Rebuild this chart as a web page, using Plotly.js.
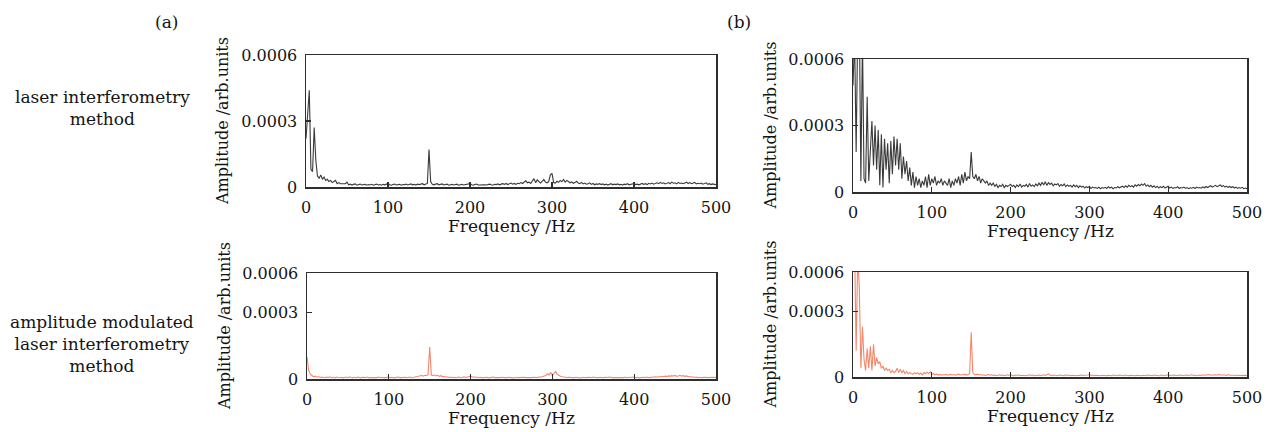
<!DOCTYPE html>
<html>
<head>
<meta charset="utf-8">
<script src="https://cdn.plot.ly/plotly-3.0.1.min.js"></script>
<style>
  html, body { margin: 0; padding: 0; background: #ffffff; }
  #chart { width: 1280px; height: 432px; }
</style>
</head>
<body>
<div id="chart"></div>
<script>
// Amplitude spectra, sampled every 2 Hz from 0 to 500 Hz.
// Values are in units of 1e-5 arb.units (one row = 20 Hz).
const freqStart = 0;
const freqStep = 2;

// (a) laser interferometry method
const ampA_laser = [
  22, 36, 44, 8, 7, 27, 12, 5, 4, 5.5,
  3.5, 4.5, 3, 3.5, 2.5, 3, 2, 2.5, 3, 1.5,
  2, 1.5, 1.5, 1.2, 1.5, 2.2, 1, 1.3, 0.9, 1.2,
  1.4, 0.8, 1.1, 1.3, 0.9, 1.0, 1.2, 0.8, 1.1, 0.9,
  1.2, 0.8, 1.0, 1.3, 0.9, 1.1, 0.8, 1.2, 1.0, 1.3,
  1.6, 1.0, 0.8, 1.1, 1.3, 0.9, 1.0, 1.2, 0.8, 1.1,
  1.0, 1.3, 0.9, 1.1, 1.4, 1.0, 1.2, 0.9, 1.3, 1.1,
  1.2, 1.5, 1.0, 1.3, 1.6, 17, 2.5, 1.2, 1.0, 1.3,
  1.5, 1.0, 1.2, 1.4, 0.9, 1.1, 1.3, 0.8, 1.0, 1.2,
  0.9, 1.1, 1.3, 0.8, 1.0, 1.2, 0.9, 1.1, 1.0, 1.3,
  1.5, 1.0, 0.8, 1.1, 1.3, 0.9, 1.0, 0.8, 1.2, 1.0,
  0.9, 1.1, 1.3, 1.0, 0.8, 1.2, 1.1, 1.4, 1.0, 1.3,
  1.5, 1.2, 1.6, 1.1, 1.4, 1.8, 1.3, 1.6, 1.2, 1.7,
  1.5, 2.0, 1.6, 2.4, 2.8, 1.9, 2.2, 1.6, 2.6, 3.8,
  2.0, 3.2, 2.5, 1.8, 2.6, 3.4, 2.2, 1.9, 2.4, 5.5,
  6.2, 2.0, 1.8, 2.6, 2.1, 3.0, 2.4, 3.4, 2.2, 3.0,
  2.5, 1.9, 2.3, 1.7, 2.0, 2.6, 1.8, 1.5, 2.1, 1.4,
  1.8, 1.3, 1.5, 1.9, 1.2, 1.6, 1.0, 1.4, 1.2, 1.5,
  1.1, 1.4, 1.0, 1.3, 0.9, 1.2, 1.5, 1.0, 1.3, 1.1,
  1.4, 1.0, 1.2, 0.9, 1.3, 1.1, 1.5, 1.0, 1.2, 1.4,
  1.6, 1.1, 1.3, 1.0, 1.4, 1.6, 1.2, 1.5, 1.1, 1.7,
  1.4, 1.8, 1.3, 1.6, 1.9, 1.5, 2.1, 1.6, 1.9, 1.4,
  1.8, 2.0, 1.5, 2.2, 1.7, 1.9, 1.4, 2.1, 1.6, 1.8,
  1.5, 1.9, 2.2, 1.6, 2.0, 1.5, 1.8, 2.1, 1.4, 1.7,
  1.5, 1.8, 1.3, 1.6, 1.9, 1.2, 1.5, 1.1, 1.4, 1.2,
  1.0
];

// (a) amplitude modulated laser interferometry method
const ampA_mod = [
  10, 4, 2.2, 1.5, 1.0, 1.3, 0.8, 1.1, 0.7, 0.9,
  0.8, 0.6, 0.9, 0.7, 1.0, 0.6, 0.8, 0.5, 0.9, 0.7,
  0.6, 0.8, 0.5, 0.7, 0.9, 0.6, 1.0, 0.7, 0.5, 0.8,
  0.6, 0.9, 0.7, 0.5, 0.8, 0.6, 0.7, 0.9, 0.5, 0.7,
  0.8, 0.6, 0.5, 0.7, 0.9, 0.6, 0.8, 0.5, 0.7, 0.6,
  0.9, 0.6, 0.8, 0.5, 0.7, 0.6, 0.9, 0.5, 0.7, 0.6,
  0.8, 0.6, 0.7, 0.9, 0.6, 0.8, 0.7, 1.0, 1.2, 1.4,
  1.6, 1.3, 1.7, 1.5, 2.0, 14.5, 1.8, 1.5, 1.9, 1.4,
  1.7, 1.2, 1.5, 1.0, 1.2, 0.8, 1.0, 0.7, 0.9, 0.6,
  0.8, 0.6, 0.7, 0.9, 0.6, 0.8, 1.0, 0.7, 0.9, 1.1,
  1.3, 0.8, 1.0, 0.7, 0.9, 0.6, 0.8, 0.5, 0.7, 0.6,
  0.8, 0.5, 0.7, 0.6, 0.9, 0.6, 0.5, 0.7, 0.6, 0.8,
  0.6, 0.7, 0.5, 0.8, 0.6, 0.7, 0.5, 0.6, 0.8, 0.6,
  0.7, 0.5, 0.6, 0.8, 0.6, 0.5, 0.7, 0.6, 0.8, 0.7,
  0.9, 0.7, 1.0, 0.8, 1.1, 1.3, 1.6, 2.4, 1.8, 3.0,
  1.5, 2.6, 3.4, 2.0, 1.5, 1.2, 1.0, 0.8, 0.9, 0.7,
  0.8, 0.6, 0.7, 0.5, 0.8, 0.6, 0.7, 0.5, 0.6, 0.8,
  0.6, 0.7, 0.5, 0.8, 0.6, 0.9, 0.7, 0.5, 0.6, 0.8,
  0.7, 0.5, 0.8, 0.6, 0.7, 0.9, 0.6, 0.5, 0.7, 0.6,
  0.8, 0.6, 0.7, 0.5, 0.9, 0.6, 0.7, 0.8, 0.6, 0.7,
  0.9, 0.6, 0.8, 0.5, 0.7, 0.6, 0.8, 0.7, 0.9, 0.6,
  0.8, 0.7, 0.9, 1.0, 0.8, 1.1, 0.9, 1.2, 1.0, 1.3,
  1.1, 1.4, 1.2, 1.5, 1.3, 1.6, 1.2, 1.4, 1.7, 1.3,
  1.5, 1.2, 1.4, 1.0, 1.1, 0.8, 1.0, 0.7, 0.9, 0.6,
  0.8, 0.6, 0.7, 0.5, 0.8, 0.6, 0.7, 0.5, 0.6, 0.8,
  0.6
];

// (b) laser interferometry method
const ampB_laser = [
  48, 70, 18, 75, 80, 5, 70, 6, 4, 43,
  5, 20, 32, 12, 30, 10, 28, 3, 26, 2,
  24, 10, 22, 4, 23, 8, 25, 12, 24, 10,
  22, 6, 16, 8, 14, 5, 11, 3, 9, 2,
  7, 3, 6, 2, 5, 3, 7, 2, 8, 3,
  6, 4, 7, 3, 5, 4, 6, 3, 5, 4,
  3, 6, 2, 5, 3, 6, 4, 7, 3, 8,
  4, 9, 5, 7, 6, 18, 7, 6, 8, 5,
  7, 4, 6, 5, 4, 5, 3, 4, 3, 4,
  2.5, 3.5, 2, 3, 2.5, 3.5, 2, 3, 2.5, 3,
  3.5, 2.5, 3, 2, 3.2, 2.4, 3.6, 2.2, 3, 2.6,
  3.4, 2.2, 3.8, 2.6, 3.2, 2.4, 3.6, 2.8, 4, 3,
  4.4, 3.2, 4.6, 3, 4.2, 3.4, 4, 2.8, 3.6, 3.2,
  3.8, 2.6, 3.4, 2.8, 3.6, 2.4, 3.2, 2.6, 3, 2.2,
  3.2, 2.4, 3, 2, 2.8, 2.2, 2.6, 1.8, 2.4, 2,
  2.6, 1.6, 2.2, 1.8, 2, 1.6, 2.2, 1.5, 2, 1.7,
  2.1, 1.6, 2.4, 1.8, 2.2, 1.5, 2, 1.8, 2.4, 1.9,
  2.2, 2.6, 2, 2.8, 2.2, 3, 2.4, 2.8, 2.2, 3.2,
  2.6, 3.4, 2.8, 3.6, 3, 3.8, 2.6, 3.2, 2.4, 3,
  2.2, 2.8, 2, 2.6, 1.8, 2.4, 2, 2.6, 1.8, 2.2,
  2.6, 1.8, 2.2, 1.6, 2, 1.8, 2.4, 1.6, 2, 1.8,
  2.2, 1.6, 2, 1.5, 1.9, 1.7, 2.1, 1.6, 2.2, 1.8,
  2, 1.7, 2.3, 1.9, 2.5, 2, 2.4, 2.8, 2.2, 2.6,
  3, 2.4, 2.8, 3.2, 2.5, 2.9, 2.2, 2.6, 2.1, 2.5,
  2, 2.4, 1.8, 2.2, 1.6, 2, 1.7, 2.1, 1.5, 1.8,
  1.5
];

// (b) amplitude modulated laser interferometry method
const ampB_mod = [
  50, 60, 12, 55, 41, 4, 23, 8, 3, 13,
  4, 14, 3, 15, 5, 9, 6, 7, 4, 5,
  3, 4, 3, 3.5, 2, 3, 2, 2.5, 4, 2,
  3.5, 2, 3, 1.5, 2.5, 1.5, 2, 1.5, 1.2, 2,
  1.5, 2, 1.2, 1.8, 1, 2, 1.5, 2.2, 1.5, 2.5,
  1.2, 1.5, 1, 1.3, 0.9, 1.2, 0.8, 1.1, 0.9, 1.2,
  0.8, 1.0, 1.2, 0.9, 1.1, 0.8, 1.0, 1.3, 0.9, 1.1,
  1.0, 1.2, 0.9, 1.3, 1.5, 20.5, 2, 1.2, 1.0, 1.3,
  0.9, 1.1, 0.8, 1.0, 0.7, 0.9, 1.1, 0.8, 1.0, 0.7,
  0.9, 0.6, 0.8, 1.0, 0.7, 0.9, 0.6, 0.8, 1.0, 0.7,
  1.1, 0.8, 0.6, 0.9, 0.7, 1.0, 0.6, 0.8, 0.7, 0.9,
  0.6, 0.8, 1.0, 0.7, 0.9, 0.6, 0.8, 0.7, 0.9, 0.6,
  0.8, 1.0, 0.7, 0.9, 1.4, 0.8, 0.6, 0.9, 0.7, 0.8,
  0.6, 0.9, 0.7, 0.8, 0.6, 1.0, 0.7, 0.9, 0.6, 0.8,
  0.7, 0.9, 0.6, 0.8, 0.7, 1.0, 0.6, 0.8, 0.7, 0.9,
  1.1, 0.7, 0.9, 0.6, 0.8, 0.7, 0.9, 0.6, 0.8, 0.7,
  0.9, 0.6, 0.8, 0.7, 0.6, 0.9, 0.7, 0.8, 0.6, 0.9,
  0.7, 0.8, 0.6, 0.9, 0.7, 0.6, 0.8, 0.7, 0.9, 0.6,
  0.8, 0.7, 0.9, 0.6, 0.8, 0.7, 0.6, 0.9, 0.7, 0.8,
  0.6, 0.9, 0.7, 0.8, 0.6, 0.7, 0.9, 0.6, 0.8, 0.7,
  1.0, 0.7, 0.8, 0.6, 0.9, 0.7, 0.8, 0.6, 0.9, 0.7,
  0.8, 0.6, 0.9, 0.7, 0.8, 1.0, 0.7, 0.9, 0.6, 0.8,
  0.9, 0.7, 1.0, 0.8, 0.9, 0.7, 1.1, 0.8, 0.9, 0.7,
  1.0, 0.8, 1.2, 0.9, 1.0, 0.8, 0.9, 0.7, 1.1, 0.8,
  0.9, 0.7, 0.8, 0.6, 0.9, 0.7, 0.8, 0.6, 0.7, 0.8,
  0.6
];

const ampUnit = 1e-5;            // stored values -> arb.units
const xTickVals = [0, 100, 200, 300, 400, 500];
const yTickText = ['0', '0.0003', '0.0006'];
const rowLabels = ['laser interferometry<br>method',
                   'amplitude modulated<br>laser interferometry<br>method'];
const panelTags = ['(a)', '(b)'];
const xTitle = 'Frequency /Hz';
const yTitle = 'Amplitude /arb.units';

const W = 1280, H = 432;
const FONT = 'DejaVu Serif, Liberation Serif, serif';
const INK = '#141414';
const FRAME = '#2e2e2e';
const DARK = '#3a3a3a';
const ORANGE = '#f4876b';

// plot boxes in page pixels: left, right, top, bottom
const boxes = {
  a_top: [306, 716, 55, 187],
  b_top: [853, 1247, 59, 192],
  a_bot: [307, 716, 273, 379],
  b_bot: [853, 1247, 272, 377]
};
const px = v => v / W;
const py = v => 1 - v / H;

function trace(values, color, ax) {
  return {
    type: 'scatter', mode: 'lines',
    x0: freqStart, dx: freqStep,
    y: values.map(v => v * ampUnit),
    line: { color: color, width: 1.1 },
    xaxis: 'x' + ax, yaxis: 'y' + ax,
    hoverinfo: 'skip', showlegend: false
  };
}

const data = [
  trace(ampA_laser, DARK, ''),
  trace(ampB_laser, DARK, '2'),
  trace(ampA_mod, ORANGE, '3'),
  trace(ampB_mod, ORANGE, '4')
];

function xaxis(box, anchor) {
  return {
    domain: [px(box[0]), px(box[1])], anchor: anchor,
    range: [0, 500], tickvals: xTickVals,
    ticks: 'inside', ticklen: 5, tickwidth: 1.2, tickcolor: FRAME,
    showline: true, mirror: true, linecolor: FRAME, linewidth: 1.5,
    showgrid: false, zeroline: false,
    tickfont: { family: FONT, size: 16, color: INK },
    ticklabelstandoff: 5, fixedrange: true
  };
}
function yaxis(box, anchor, top) {
  return {
    domain: [py(box[3]), py(box[2])], anchor: anchor,
    range: [0, top],
    tickvals: [0, 0.0003, top], ticktext: yTickText,
    ticks: 'inside', ticklen: 5, tickwidth: 1.2, tickcolor: FRAME,
    showline: true, mirror: true, linecolor: FRAME, linewidth: 1.5,
    showgrid: false, zeroline: false,
    tickfont: { family: FONT, size: 16, color: INK },
    ticklabelstandoff: 4, fixedrange: true
  };
}

// lower panels share the 0.0003 spacing of the upper ones; their frame ends lower
const lowTop = 0.00048;

const layout = {
  width: W, height: H,
  margin: { l: 0, r: 0, t: 0, b: 0 },
  paper_bgcolor: '#ffffff', plot_bgcolor: '#ffffff',
  showlegend: false,
  xaxis: xaxis(boxes.a_top, 'y'),
  yaxis: yaxis(boxes.a_top, 'x', 0.0006),
  xaxis2: xaxis(boxes.b_top, 'y2'),
  yaxis2: yaxis(boxes.b_top, 'x2', 0.0006),
  xaxis3: xaxis(boxes.a_bot, 'y3'),
  yaxis3: yaxis(boxes.a_bot, 'x3', lowTop),
  xaxis4: xaxis(boxes.b_bot, 'y4'),
  yaxis4: yaxis(boxes.b_bot, 'x4', lowTop),
  annotations: []
};

const ann = layout.annotations;
function addText(text, x, y, size, angle) {
  ann.push({
    text: text, xref: 'paper', yref: 'paper',
    x: px(x), y: py(y), xanchor: 'center', yanchor: 'middle',
    showarrow: false, textangle: angle || 0,
    font: { family: FONT, size: size, color: INK }
  });
}

// panel tags and row labels
addText(panelTags[0], 166, 22, 17);
addText(panelTags[1], 739, 22, 17);
addText(rowLabels[0], 102, 108, 17);
addText(rowLabels[1], 102, 344, 17);

// axis titles for each panel
Object.values(boxes).forEach(b => {
  addText(xTitle, (b[0] + b[1]) / 2, b[3] + 39, 17);
  addText(yTitle, b[0] - 83, (b[2] + b[3]) / 2, 16, -90);
});

Plotly.newPlot('chart', data, layout, { staticPlot: true, displayModeBar: false });
</script>
</body>
</html>
